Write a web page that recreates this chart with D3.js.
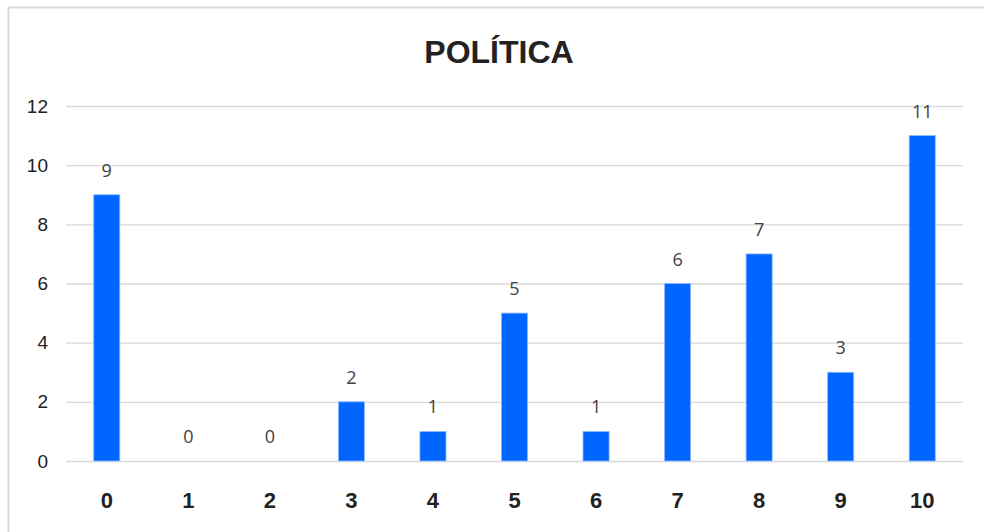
<!DOCTYPE html>
<html>
<head>
<meta charset="utf-8">
<script src="https://cdn.jsdelivr.net/npm/d3@7"></script>
<style>
  html, body { margin: 0; padding: 0; background: #fff; }
  svg { display: block; }
</style>
</head>
<body>
<svg id="chart" width="984" height="532"></svg>
<script>
// Survey answers on a 0–10 scale and how many respondents chose each score
const chartTitle = "POLÍTICA";
const categories = ["0", "1", "2", "3", "4", "5", "6", "7", "8", "9", "10"];
const counts = [9, 0, 0, 2, 1, 5, 1, 6, 7, 3, 11];
const yTicks = [0, 2, 4, 6, 8, 10, 12];

const svg = d3.select("#chart");
const W = 984, H = 532;
const plot = { left: 66, right: 963, top: 106, bottom: 461 };

// chart frame (runs off the right and bottom edge)
svg.append("path")
  .attr("d", `M8.5,${H + 5} V7.5 H${W + 5}`)
  .attr("fill", "none")
  .attr("stroke", "#d9d9d9")
  .attr("stroke-width", 2);

const x = d3.scaleBand()
  .domain(categories)
  .range([plot.left, plot.right])
  .paddingInner(0.68)
  .paddingOuter(0.34);

const y = d3.scaleLinear()
  .domain([0, 12])
  .range([plot.bottom, plot.top]);

// horizontal gridlines + y tick labels
const yAxis = d3.axisLeft(y)
  .tickValues(yTicks)
  .tickSize(-(plot.right - plot.left))
  .tickPadding(18);

const gy = svg.append("g")
  .attr("transform", `translate(${plot.left},0)`)
  .call(yAxis);
gy.select(".domain").remove();
gy.selectAll(".tick line")
  .attr("stroke", "#d9d9d9")
  .attr("stroke-width", 1.3);
gy.selectAll(".tick text")
  .attr("fill", "#222")
  .style("font-family", "'Liberation Sans', Arial, sans-serif")
  .style("font-size", "19px");

// category labels along the bottom
const xAxis = d3.axisBottom(x).tickSize(0).tickPadding(0);
const gx = svg.append("g")
  .attr("transform", `translate(0,${plot.bottom})`)
  .call(xAxis);
gx.select(".domain").remove();
gx.selectAll(".tick text")
  .attr("dy", null)
  .attr("y", 47)
  .attr("fill", "#222")
  .style("font-family", "'Liberation Sans', Arial, sans-serif")
  .style("font-weight", "bold")
  .style("font-size", "22px");

const data = categories.map((c, i) => ({ cat: c, value: counts[i] }));

// bars
svg.append("g").selectAll("rect")
  .data(data)
  .join("rect")
  .attr("x", d => x(d.cat))
  .attr("width", x.bandwidth())
  .attr("y", d => y(d.value))
  .attr("height", d => y(0) - y(d.value))
  .attr("fill", "#0066ff")
  .attr("stroke", "#8fbcff")
  .attr("stroke-width", d => d.value > 0 ? 0.8 : 0);

// value labels above each bar
svg.append("g").selectAll("text")
  .data(data)
  .join("text")
  .attr("x", d => x(d.cat) + x.bandwidth() / 2)
  .attr("y", d => y(d.value) - 18)
  .attr("text-anchor", "middle")
  .attr("fill", "#404040")
  .style("font-family", "'Open Sans', 'Noto Sans', sans-serif")
  .style("font-size", "18px")
  .text(d => d.value);

// title
svg.append("text")
  .attr("x", 499)
  .attr("y", 63)
  .attr("text-anchor", "middle")
  .attr("fill", "#222")
  .style("font-family", "'Liberation Sans', Arial, sans-serif")
  .style("font-weight", "bold")
  .style("font-size", "32px")
  .text(chartTitle);
</script>
</body>
</html>
